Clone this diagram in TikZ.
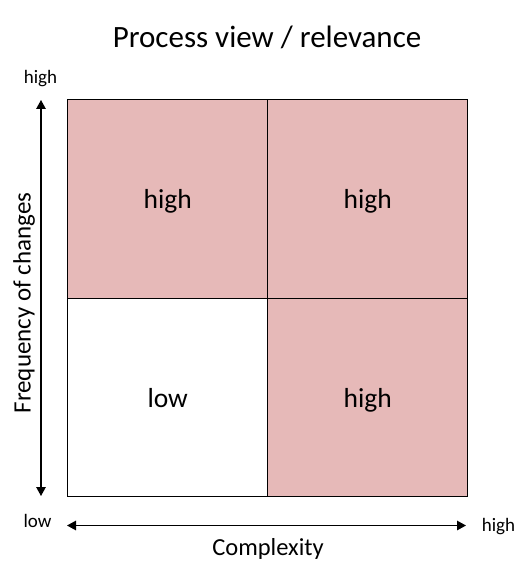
\documentclass[tikz,border=0pt]{standalone}
\usepackage{fontspec}
\setmainfont{Carlito}
\usetikzlibrary{arrows.meta}
\definecolor{cellpink}{HTML}{E6B9B8}
\begin{document}
\begin{tikzpicture}[x=1pt,y=-1pt,
  cell/.style={draw=black,line width=1.4pt,minimum width=200pt,minimum height=198.5pt,inner sep=0pt,anchor=north west,
    text height=19.5pt,text depth=0pt,font=\fontsize{27.5}{30}\selectfont},
  hot/.style={cell,fill=cellpink},
  cold/.style={cell,fill=white},
  axis/.style={line width=1.3pt,{Triangle[length=9pt,width=9.5pt]}-{Triangle[length=9pt,width=9.5pt]}},
  small/.style={font=\fontsize{19}{22}\selectfont,anchor=base,inner sep=0pt},
  mid/.style={font=\fontsize{24.5}{28}\selectfont,anchor=base,inner sep=0pt}]
\useasboundingbox (0,0) rectangle (515,561);
\node[font=\fontsize{31}{34}\selectfont,anchor=base,inner sep=0pt] (title) at (267,48) {Process view / relevance};
\node[hot] (tl) at (67,99) {high};
\node[hot] (tr) at (267,99) {high};
\node[cold] (bl) at (67,297.5) {low};
\node[hot] (br) at (267,297.5) {high};
\coordinate (vtop) at (41,100);
\coordinate (vbot) at (41,496);
\coordinate (hl) at (67,525.5);
\coordinate (hr) at (466,525.5);
\draw[axis] (vbot) -- (vtop);
\draw[axis] (hl) -- (hr);
\node[small] (yhigh) at (40.5,84) {high};
\node[small] (ylow) at (37.5,527) {low};
\node[small] (xhigh) at (498.5,531) {high};
\node[mid] (xlab) at (268,555) {Complexity};
\node[font=\fontsize{25}{28}\selectfont,rotate=90,anchor=base,inner sep=0pt] (ylab) at (30.5,303) {Frequency of changes};
\end{tikzpicture}
\end{document}
